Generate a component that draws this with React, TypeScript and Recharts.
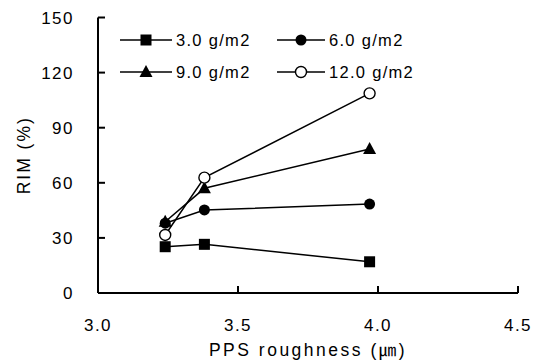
import React from "react";
import { LineChart, Line, XAxis, YAxis } from "recharts";

const roughness = [3.24, 3.38, 3.97];
const rim3 = [25.2, 26.5, 17];
const rim6 = [38, 45.2, 48.4];
const rim9 = [38.8, 57, 78.4];
const rim12 = [31.6, 62.8, 108.7];
const seriesNames = ["3.0 g/m2", "6.0 g/m2", "9.0 g/m2", "12.0 g/m2"];
const xTicks = [3.0, 3.5, 4.0, 4.5];
const yTicks = [0, 30, 60, 90, 120, 150];

const FONT = "'Liberation Sans', Arial, 'Noto Sans CJK JP', sans-serif";

const toPoints = (vals: number[]) => roughness.map((x, i) => ({ x, y: vals[i] }));

type Shape = "square" | "circle" | "triangle" | "open";

const series: Array<{ name: string; data: { x: number; y: number }[]; shape: Shape }> = [
  { name: seriesNames[0], data: toPoints(rim3), shape: "square" },
  { name: seriesNames[1], data: toPoints(rim6), shape: "circle" },
  { name: seriesNames[2], data: toPoints(rim9), shape: "triangle" },
  { name: seriesNames[3], data: toPoints(rim12), shape: "open" },
];

function Marker({ shape, cx, cy }: { shape: Shape; cx: number; cy: number }) {
  if (shape === "square") {
    return <rect x={cx - 5.5} y={cy - 5.5} width={11} height={11} fill="#000" />;
  }
  if (shape === "circle") {
    return <circle cx={cx} cy={cy} r={5.5} fill="#000" />;
  }
  if (shape === "triangle") {
    return (
      <polygon
        points={`${cx},${cy - 7} ${cx + 6.5},${cy + 5} ${cx - 6.5},${cy + 5}`}
        fill="#000"
      />
    );
  }
  return <circle cx={cx} cy={cy} r={5.5} fill="#fff" stroke="#000" strokeWidth={1.4} />;
}

function makeDot(shape: Shape) {
  return (props: any) => {
    const { cx, cy, index } = props;
    if (cx == null || cy == null) return <g key={index} />;
    return (
      <g key={index}>
        <Marker shape={shape} cx={cx} cy={cy} />
      </g>
    );
  };
}

// legend sits inside the plot, two rows of two
function LegendBox() {
  const item = (s: (typeof series)[number], lineW: number) => (
    <div style={{ display: "flex", alignItems: "center", height: 32 }}>
      <svg width={lineW} height={16} style={{ display: "block" }}>
        <line x1={0} y1={8} x2={lineW} y2={8} stroke="#000" strokeWidth={1.5} />
        <Marker shape={s.shape} cx={lineW / 2} cy={8} />
      </svg>
      <span
        style={{
          marginLeft: 4,
          fontSize: 16.5,
          letterSpacing: 1.3,
          fontFamily: FONT,
          color: "#000",
          lineHeight: "16px",
        }}
      >
        {s.name}
      </span>
    </div>
  );
  return (
    <div
      style={{
        position: "absolute",
        left: 120,
        top: 24,
        display: "grid",
        gridTemplateColumns: "157px 200px",
      }}
    >
      {item(series[0], 52)}
      {item(series[1], 48)}
      {item(series[2], 52)}
      {item(series[3], 48)}
    </div>
  );
}

export default function App() {
  const tickStyle = { fill: "#000", fontSize: 17, letterSpacing: 1.5, fontFamily: FONT };
  return (
    <div style={{ position: "absolute", left: 0, top: 0, width: 540, height: 364, background: "#fff" }}>
      <LineChart width={540} height={364} margin={{ top: 17.5, right: 22, bottom: 0, left: 0 }}>
        <XAxis
          dataKey="x"
          type="number"
          domain={[3, 4.5]}
          ticks={xTicks}
          tickFormatter={(v: number) => v.toFixed(1)}
          allowDuplicatedCategory={false}
          height={71}
          tickSize={-7}
          tickMargin={33}
          stroke="#000"
          strokeWidth={2}
          tick={tickStyle}
          label={{
            value: "PPS roughness (㎛)",
            position: "insideBottom",
            offset: 8,
            style: { fill: "#000", fontSize: 17.5, letterSpacing: 2.5, fontFamily: FONT },
          }}
        />
        <YAxis
          type="number"
          domain={[0, 150]}
          ticks={yTicks}
          width={98}
          tickSize={-7}
          tickMargin={31}
          stroke="#000"
          strokeWidth={2}
          tick={tickStyle}
          label={{
            value: "RIM (%)",
            angle: -90,
            position: "insideLeft",
            offset: 24,
            style: { fill: "#000", fontSize: 17.5, letterSpacing: 2, fontFamily: FONT, textAnchor: "middle" },
          }}
        />
        {series.map((s) => (
          <Line
            key={s.name}
            name={s.name}
            data={s.data}
            dataKey="y"
            stroke="#000"
            strokeWidth={1.5}
            dot={makeDot(s.shape)}
            activeDot={false}
            isAnimationActive={false}
          />
        ))}
      </LineChart>
      <LegendBox />
    </div>
  );
}
